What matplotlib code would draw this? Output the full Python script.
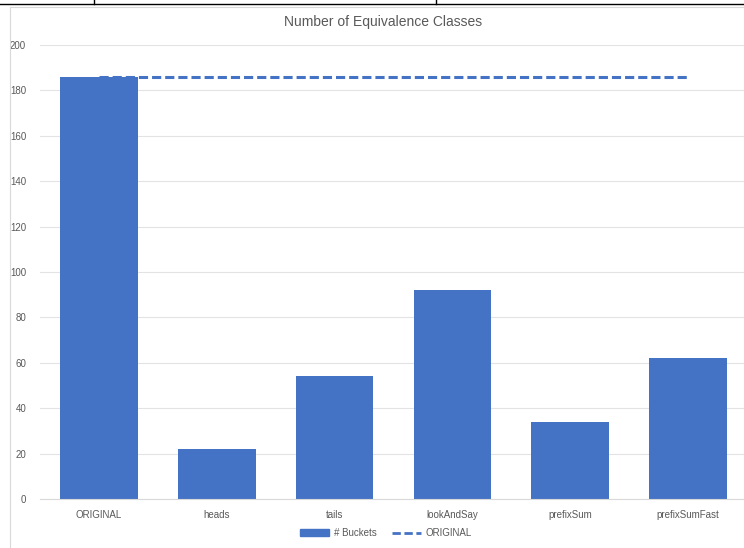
import matplotlib.pyplot as plt
from matplotlib.lines import Line2D
from matplotlib.patches import Patch

categories = ["ORIGINAL", "heads", "tails", "lookAndSay", "prefixSum", "prefixSumFast"]
buckets = [186, 22, 54, 92, 34, 62]
original = [186, 186, 186, 186, 186, 186]
y_ticks = [0, 20, 40, 60, 80, 100, 120, 140, 160, 180, 200]

blue = "#4472C4"
grey = "#595959"

plt.rcParams["font.family"] = ["Liberation Sans", "DejaVu Sans"]

fig = plt.figure(figsize=(7.44, 5.48), dpi=100)
ax = fig.add_axes([40 / 744, 49 / 548, 707 / 744, 454 / 548])

x = range(len(categories))
ax.bar(x, buckets, width=0.66, color=blue, zorder=2)
ax.plot(x, original, color=blue, linewidth=2.2, linestyle=(0, (3, 1.3)), zorder=3)

ax.set_xlim(-0.5, len(categories) - 0.5)
ax.set_ylim(0, 200)
ax.set_yticks(y_ticks)
ax.set_xticks(list(x))
ax.set_xticklabels(categories)
ax.tick_params(axis="both", length=0, labelsize=7, labelcolor=grey)
ax.tick_params(axis="x", pad=8)
ax.tick_params(axis="y", pad=10)
ax.grid(axis="y", color="#E3E3E3", linewidth=0.8, zorder=0)
for side in ["top", "right", "left"]:
    ax.spines[side].set_visible(False)
ax.spines["bottom"].set_color("#D9D9D9")

fig.text(383 / 744, 1 - 22 / 548, "Number of Equivalence Classes", ha="center", va="center",
         fontsize=10, color=grey)

handles = [Patch(color=blue), Line2D([0], [0], color=blue, linewidth=2, linestyle=(0, (3, 1.3)))]
fig.legend(handles, ["# Buckets", "ORIGINAL"], loc="center", bbox_to_anchor=(386 / 744, 1 - 533 / 548),
           ncol=2, frameon=False, fontsize=7, labelcolor=grey, handlelength=3, handleheight=0.6,
           handletextpad=0.5, columnspacing=1.5)

# spreadsheet cell lines and chart border around the chart
fig.add_artist(Line2D([0, 1], [1 - 4 / 548, 1 - 4 / 548], color="black", linewidth=1))
for xp in [94, 436]:
    fig.add_artist(Line2D([xp / 744, xp / 744], [1, 1 - 4 / 548], color="black", linewidth=1))
fig.add_artist(Line2D([10 / 744, 1], [1 - 7 / 548, 1 - 7 / 548], color="#D9D9D9", linewidth=0.8))
fig.add_artist(Line2D([10 / 744, 10 / 744], [1 - 7 / 548, 0], color="#D9D9D9", linewidth=0.8))

fig.savefig("out.png", dpi=100)
